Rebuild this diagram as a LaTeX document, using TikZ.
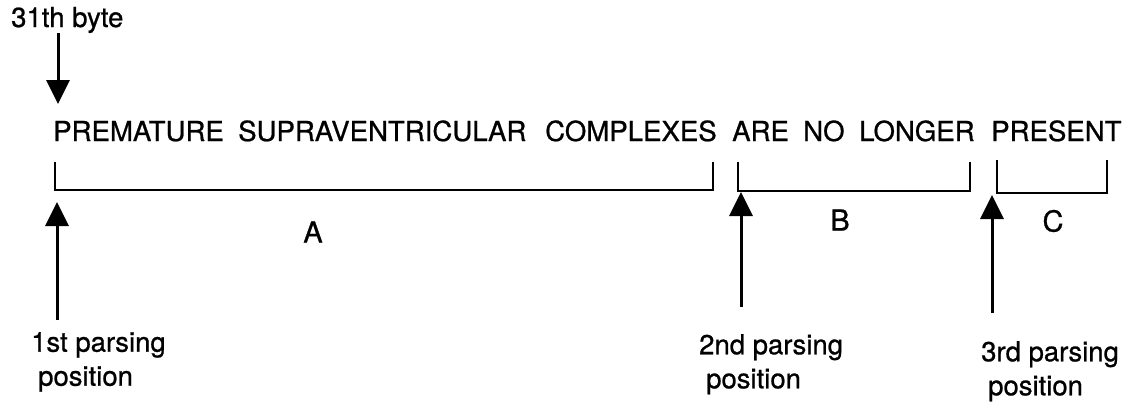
\documentclass[tikz,border=0pt]{standalone}
\usepackage{fontspec}
\setmainfont{TeX Gyre Heros}[UprightFeatures={FakeBold=0.8}]
\usetikzlibrary{arrows.meta}

\begin{document}
\begin{tikzpicture}[x=1pt,y=-1pt,
        bracketline/.style={line width=2.8pt},
        bigarrow/.style={line width=3pt,-{Triangle[width=23pt,length=24pt]}},
        word/.style={anchor=base west,inner sep=0pt,font=\fontsize{27.6}{30}\selectfont},
        part/.style={inner sep=0pt,font=\fontsize{29}{30}\selectfont},
        parsepos/.style={anchor=north west,inner sep=0pt,align=left,font=\fontsize{27.5}{34}\selectfont}]
        \useasboundingbox (0,0) rectangle (1142,402);

        % byte marker
        \node[anchor=base west,inner sep=0pt,font=\fontsize{27.5}{30}\selectfont] (byte) at (11,27) {31th byte};
        \coordinate (T0) at (58,33);
        \coordinate (T1) at (58,104);
        \draw[bigarrow] (T0) -- (T1);

        % the sentence
        \node[word] (w1) at (53,141) {PREMATURE};
        \node[word] (w2) at (238,141) {SUPRAVENTRICULAR};
        \node[word] (w3) at (545,141) {COMPLEXES};
        \node[word] (w4) at (732,141) {ARE};
        \node[word] (w5) at (803,141) {NO};
        \node[word] (w6) at (859,141) {LONGER};
        \node[word] (w7) at (991,141) {PRESENT};

        % brackets
        \coordinate (A0) at (55,162);
        \coordinate (A1) at (713,162);
        \coordinate (B0) at (738,162);
        \coordinate (B1) at (970,162);
        \coordinate (C0) at (997,160);
        \coordinate (C1) at (1107,160);
        \draw[bracketline] (A0) -- ++(0,28) -| (A1);
        \draw[bracketline] (B0) -- ++(0,29) -| (B1);
        \draw[bracketline] (C0) -- ++(0,33) -| (C1);

        \node[part] (A) at (313,232) {A};
        \node[part] (B) at (840,220) {B};
        \node[part] (C) at (1053,221) {C};

        % parsing positions
        \coordinate (P1) at (57,320);
        \coordinate (Q1) at (57,202);
        \coordinate (P2) at (741,307);
        \coordinate (Q2) at (741,192);
        \coordinate (P3) at (992,313);
        \coordinate (Q3) at (992,195);
        \draw[bigarrow] (P1) -- (Q1);
        \draw[bigarrow] (P2) -- (Q2);
        \draw[bigarrow] (P3) -- (Q3);

        \node[parsepos] (first) at (31,332) {1st parsing\\\hspace*{7pt}position};
        \node[parsepos] (second) at (699,334) {2nd parsing\\\hspace*{7pt}position};
        \node[parsepos] (third) at (981,341) {3rd parsing\\\hspace*{7pt}position};

    \end{tikzpicture}
\end{document}
